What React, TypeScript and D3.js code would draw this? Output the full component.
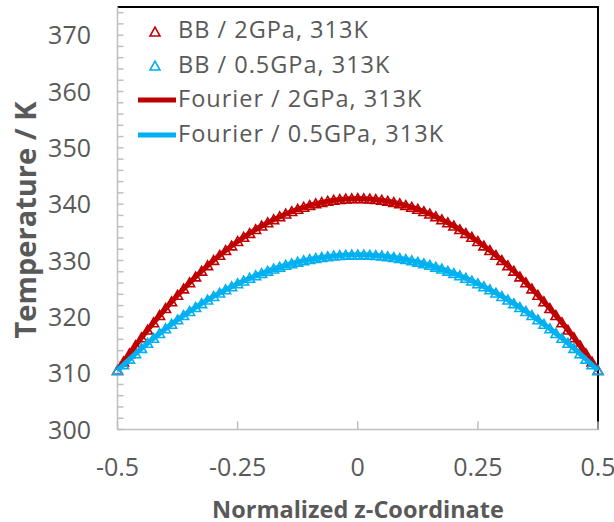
import React from "react";
import * as d3 from "d3";

// Normalized z-coordinate grid (BB model points)
const zGrid = [
  -0.5, -0.4875, -0.475, -0.4625, -0.45, -0.4375, -0.425, -0.4125, -0.4, -0.3875,
  -0.375, -0.3625, -0.35, -0.3375, -0.325, -0.3125, -0.3, -0.2875, -0.275, -0.2625,
  -0.25, -0.2375, -0.225, -0.2125, -0.2, -0.1875, -0.175, -0.1625, -0.15, -0.1375,
  -0.125, -0.1125, -0.1, -0.0875, -0.075, -0.0625, -0.05, -0.0375, -0.025, -0.0125,
  0,
  0.0125, 0.025, 0.0375, 0.05, 0.0625, 0.075, 0.0875, 0.1, 0.1125, 0.125,
  0.1375, 0.15, 0.1625, 0.175, 0.1875, 0.2, 0.2125, 0.225, 0.2375, 0.25,
  0.2625, 0.275, 0.2875, 0.3, 0.3125, 0.325, 0.3375, 0.35, 0.3625, 0.375,
  0.3875, 0.4, 0.4125, 0.425, 0.4375, 0.45, 0.4625, 0.475, 0.4875, 0.5,
];

const bb2GPa = [
  310.5, 312.01, 313.47, 314.9, 316.3, 317.65, 318.96, 320.24, 321.48, 322.68,
  323.84, 324.97, 326.06, 327.1, 328.11, 329.09, 330.02, 330.92, 331.77, 332.59,
  333.38, 334.12, 334.82, 335.49, 336.12, 336.71, 337.26, 337.78, 338.26, 338.69,
  339.09, 339.46, 339.78, 340.07, 340.31, 340.52, 340.7, 340.83, 340.92, 340.98,
  341.0,
  340.98, 340.92, 340.83, 340.7, 340.52, 340.31, 340.07, 339.78, 339.46, 339.09,
  338.69, 338.26, 337.78, 337.26, 336.71, 336.12, 335.49, 334.82, 334.12, 333.38,
  332.59, 331.77, 330.92, 330.02, 329.09, 328.11, 327.1, 326.06, 324.97, 323.84,
  322.68, 321.48, 320.24, 318.96, 317.65, 316.3, 314.9, 313.47, 312.01, 310.5,
];

const bb05GPa = [
  310.5, 311.51, 312.5, 313.46, 314.4, 315.31, 316.19, 317.05, 317.88, 318.69,
  319.47, 320.23, 320.96, 321.66, 322.34, 322.99, 323.62, 324.22, 324.8, 325.35,
  325.88, 326.37, 326.85, 327.3, 327.72, 328.12, 328.49, 328.83, 329.16, 329.45,
  329.72, 329.96, 330.18, 330.37, 330.54, 330.68, 330.8, 330.88, 330.95, 330.99,
  331.0,
  330.99, 330.95, 330.88, 330.8, 330.68, 330.54, 330.37, 330.18, 329.96, 329.72,
  329.45, 329.16, 328.83, 328.49, 328.12, 327.72, 327.3, 326.85, 326.37, 325.88,
  325.35, 324.8, 324.22, 323.62, 322.99, 322.34, 321.66, 320.96, 320.23, 319.47,
  318.69, 317.88, 317.05, 316.19, 315.31, 314.4, 313.46, 312.5, 311.51, 310.5,
];

// Fourier solution (sparser grid, smooth curve)
const zFourier = [-0.5, -0.45, -0.4, -0.35, -0.3, -0.25, -0.2, -0.15, -0.1, -0.05, 0,
  0.05, 0.1, 0.15, 0.2, 0.25, 0.3, 0.35, 0.4, 0.45, 0.5];
const fourier2GPa = [310.5, 316.3, 321.48, 326.06, 330.02, 333.38, 336.12, 338.26, 339.78, 340.7, 341.0,
  340.7, 339.78, 338.26, 336.12, 333.38, 330.02, 326.06, 321.48, 316.3, 310.5];
const fourier05GPa = [310.5, 314.4, 317.88, 320.96, 323.62, 325.88, 327.72, 329.16, 330.18, 330.8, 331.0,
  330.8, 330.18, 329.16, 327.72, 325.88, 323.62, 320.96, 317.88, 314.4, 310.5];

const xTicks = [-0.5, -0.25, 0, 0.25, 0.5];
const xTickLabels = ["-0.5", "-0.25", "0", "0.25", "0.5"];
const yTicks = [300, 310, 320, 330, 340, 350, 360, 370];
const yMinorTicks = d3.range(300, 375, 2);

const legendLabels = [
  "BB / 2GPa, 313K",
  "BB / 0.5GPa, 313K",
  "Fourier / 2GPa, 313K",
  "Fourier / 0.5GPa, 313K",
];

const RED = "#C00000";
const BLUE = "#00B0F0";
const GRAY_TEXT = "#595959";
const AXIS = "#BFBFBF";
const FONT = "'Open Sans', sans-serif";

const tri = (cx: number, cy: number) =>
  `M${cx},${cy - 4.8}L${cx + 5},${cy + 4}L${cx - 5},${cy + 4}Z`;

export default function App() {
  const W = 614, H = 522;
  const left = 117.5, right = 598, top = 7, bottom = 429.5;
  const x = d3.scaleLinear().domain([-0.5, 0.5]).range([left, right]);
  const y = d3.scaleLinear().domain([300, 375]).range([bottom, top]);

  const line = d3
    .line<[number, number]>()
    .x((d) => x(d[0]))
    .y((d) => y(d[1]))
    .curve(d3.curveNatural);

  const f2 = line(zFourier.map((z, i) => [z, fourier2GPa[i]] as [number, number])) || "";
  const f05 = line(zFourier.map((z, i) => [z, fourier05GPa[i]] as [number, number])) || "";

  return (
    <svg
      width={W}
      height={H}
      style={{ position: "absolute", left: 0, top: 0, background: "#fff" }}
      fontFamily={FONT}
    >
      <rect x={0} y={0} width={W} height={H} fill="#fff" />
      {/* top & right frame */}
      <path d={`M${left},${top}H${right}V${bottom}`} fill="none" stroke="#000" strokeWidth={2} />
      {/* left axis */}
      <line x1={left} x2={left} y1={top} y2={bottom} stroke={AXIS} strokeWidth={1.5} />
      {yMinorTicks.map((t) => (
        <line key={"ym" + t} x1={left} x2={left + 6} y1={y(t)} y2={y(t)} stroke={AXIS} strokeWidth={1.5} />
      ))}
      {/* bottom axis */}
      <line x1={left} x2={right} y1={bottom} y2={bottom} stroke={AXIS} strokeWidth={1.5} />
      {xTicks.map((t) => (
        <line key={"xt" + t} x1={x(t)} x2={x(t)} y1={bottom} y2={bottom - 8} stroke={AXIS} strokeWidth={1.5} />
      ))}
      {/* y tick labels */}
      {yTicks.map((t) => (
        <text key={"yl" + t} x={91} y={y(t)} dy="0.36em" textAnchor="end" fontSize={25} fill={GRAY_TEXT}>
          {t}
        </text>
      ))}
      {/* x tick labels */}
      {xTicks.map((t, i) => (
        <text key={"xl" + t} x={x(t)} y={476} textAnchor="middle" fontSize={25} fill={GRAY_TEXT}>
          {xTickLabels[i]}
        </text>
      ))}
      {/* axis titles */}
      <text x={358} y={518} textAnchor="middle" fontSize={23.5} fontWeight="bold" fill={GRAY_TEXT}>
        Normalized z-Coordinate
      </text>
      <text
        transform={`translate(36,220) rotate(-90)`}
        textAnchor="middle"
        fontSize={29}
        fontWeight="bold"
        fill={GRAY_TEXT}
      >
        Temperature / K
      </text>
      {/* BB markers */}
      <g fill="none" stroke={RED} strokeWidth={1.6}>
        {zGrid.map((z, i) => (
          <path key={"r" + i} d={tri(x(z), y(bb2GPa[i]))} />
        ))}
      </g>
      <g fill="none" stroke={BLUE} strokeWidth={1.6}>
        {zGrid.map((z, i) => (
          <path key={"b" + i} d={tri(x(z), y(bb05GPa[i]))} />
        ))}
      </g>
      {/* Fourier lines */}
      <path d={f2} fill="none" stroke={RED} strokeWidth={5} />
      <path d={f05} fill="none" stroke={BLUE} strokeWidth={5} />
      {/* legend */}
      <g fontSize={23.5} fill={GRAY_TEXT} letterSpacing={1}>
        <path d={tri(155, 32)} fill="none" stroke={RED} strokeWidth={1.6} />
        <text x={178} y={38}>{legendLabels[0]}</text>
        <path d={tri(155, 66)} fill="none" stroke={BLUE} strokeWidth={1.6} />
        <text x={178} y={72.5}>{legendLabels[1]}</text>
        <line x1={138} x2={176} y1={100} y2={100} stroke={RED} strokeWidth={5} />
        <text x={178} y={107}>{legendLabels[2]}</text>
        <line x1={138} x2={176} y1={135} y2={135} stroke={BLUE} strokeWidth={5} />
        <text x={178} y={142}>{legendLabels[3]}</text>
      </g>
    </svg>
  );
}
